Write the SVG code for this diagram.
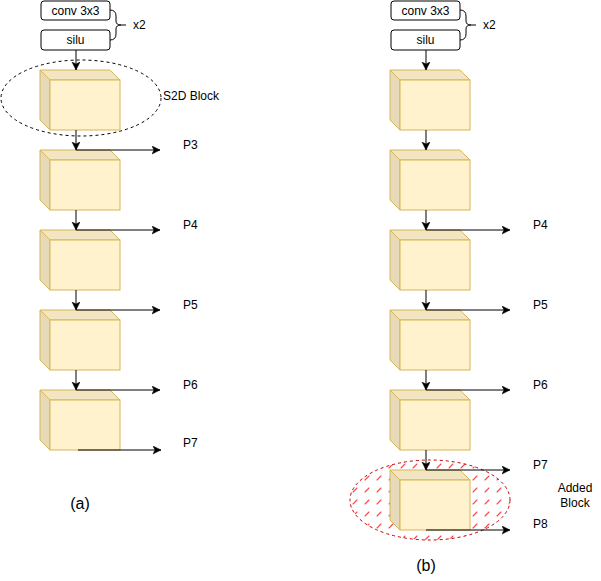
<svg xmlns="http://www.w3.org/2000/svg" width="601" height="581" viewBox="0 0 601 581">
<style>
text{font-family:"Liberation Sans",Arial,sans-serif;font-size:12px;fill:#000}
.box{fill:#fff;stroke:#000;stroke-width:1}
.front{fill:#fff2cc;stroke:#d6b656;stroke-width:1}
.top{fill:#f2e6c2;stroke:#d6b656;stroke-width:1}
.side{fill:#e6dab8;stroke:#d6b656;stroke-width:1}
.ln{fill:none;stroke:#000;stroke-width:1}
.big{font-size:16px}
</style>
<defs>
<marker id="ah" markerWidth="10" markerHeight="10" refX="8" refY="4" orient="auto" markerUnits="userSpaceOnUse">
<path d="M0,0 L8,4 L0,8 L2,4 Z" fill="#000" stroke="#000" stroke-width="0.5"/>
</marker>
<pattern id="hatch" x="350" y="460" width="12" height="12" patternUnits="userSpaceOnUse">
<line x1="3" y1="8" x2="7" y2="4" stroke="#f04a4a" stroke-width="1.1" stroke-linecap="round"/>
</pattern>
<g id="cube">
<polygon class="top" points="0,0 70,0 80,10 10,10"/>
<polygon class="side" points="0,0 10,10 10,60 0,50"/>
<rect class="front" x="10" y="10" width="70" height="50"/>
</g>
</defs>

<!-- Left (a) -->
<g id="a-conv"><rect class="box" x="41" y="1" width="69" height="19" rx="3"/><text x="75.5" y="14.5" text-anchor="middle">conv 3x3</text></g>
<g id="a-silu"><rect class="box" x="41" y="30" width="69" height="20" rx="3"/><text x="75.5" y="44" text-anchor="middle">silu</text></g>
<g id="a-brace"><path class="ln" d="M110,10 Q116,10 116,16 L116,21 Q116,25 121,25 Q116,25 116,29 L116,34 Q116,40 110,40 M121,25 L126,25"/><text x="133" y="29">x2</text></g>
<g id="a-s2d"><ellipse cx="81" cy="98" rx="80" ry="38" fill="none" stroke="#000" stroke-width="1" stroke-dasharray="3 3"/><text x="163" y="100">S2D Block</text></g>
<g id="a-c1"><use href="#cube" x="40" y="70"/></g>
<g id="a-c2"><use href="#cube" x="40" y="150"/></g>
<g id="a-c3"><use href="#cube" x="40" y="230"/></g>
<g id="a-c4"><use href="#cube" x="40" y="310"/></g>
<g id="a-c5"><use href="#cube" x="40" y="390"/></g>
<g id="a-labels">
<text x="183" y="149">P3</text><text x="183" y="229">P4</text><text x="183" y="309">P5</text><text x="183" y="389">P6</text><text x="183" y="447">P7</text>
<text class="big" x="80" y="509" text-anchor="middle">(a)</text>
</g>

<!-- Right (b) -->
<g id="b-added"><ellipse cx="430" cy="500" rx="80" ry="40" fill="url(#hatch)" stroke="#c00000" stroke-width="1" stroke-dasharray="3 3"/></g>
<g id="b-conv"><rect class="box" x="391" y="1" width="69" height="19" rx="3"/><text x="425.5" y="14.5" text-anchor="middle">conv 3x3</text></g>
<g id="b-silu"><rect class="box" x="391" y="30" width="69" height="20" rx="3"/><text x="425.5" y="44" text-anchor="middle">silu</text></g>
<g id="b-brace"><path class="ln" d="M460,10 Q466,10 466,16 L466,21 Q466,25 471,25 Q466,25 466,29 L466,34 Q466,40 460,40 M471,25 L476,25"/><text x="483" y="29">x2</text></g>
<g id="b-c1"><use href="#cube" x="390" y="70"/></g>
<g id="b-c2"><use href="#cube" x="390" y="150"/></g>
<g id="b-c3"><use href="#cube" x="390" y="230"/></g>
<g id="b-c4"><use href="#cube" x="390" y="310"/></g>
<g id="b-c5"><use href="#cube" x="390" y="390"/></g>
<g id="b-c6"><use href="#cube" x="390" y="470"/></g>
<g id="b-labels">
<text x="533" y="229">P4</text><text x="533" y="309">P5</text><text x="533" y="389">P6</text><text x="533" y="469">P7</text><text x="533" y="528">P8</text>
<text x="575" y="492" text-anchor="middle">Added</text><text x="575" y="507" text-anchor="middle">Block</text>
<text class="big" x="426" y="571" text-anchor="middle">(b)</text>
</g>

<g id="connectors">
<line class="ln" x1="76" y1="50" x2="76" y2="70" marker-end="url(#ah)"/>
<line class="ln" x1="76" y1="130" x2="76" y2="150" marker-end="url(#ah)"/>
<line class="ln" x1="76" y1="210" x2="76" y2="230" marker-end="url(#ah)"/>
<line class="ln" x1="76" y1="290" x2="76" y2="310" marker-end="url(#ah)"/>
<line class="ln" x1="76" y1="370" x2="76" y2="390" marker-end="url(#ah)"/>
<line class="ln" x1="76" y1="150" x2="160" y2="150" marker-end="url(#ah)"/>
<line class="ln" x1="76" y1="230" x2="160" y2="230" marker-end="url(#ah)"/>
<line class="ln" x1="76" y1="310" x2="160" y2="310" marker-end="url(#ah)"/>
<line class="ln" x1="76" y1="390" x2="160" y2="390" marker-end="url(#ah)"/>
<line class="ln" x1="78" y1="450" x2="161" y2="450" marker-end="url(#ah)"/>

<line class="ln" x1="426" y1="50" x2="426" y2="70" marker-end="url(#ah)"/>
<line class="ln" x1="426" y1="130" x2="426" y2="150" marker-end="url(#ah)"/>
<line class="ln" x1="426" y1="210" x2="426" y2="230" marker-end="url(#ah)"/>
<line class="ln" x1="426" y1="290" x2="426" y2="310" marker-end="url(#ah)"/>
<line class="ln" x1="426" y1="370" x2="426" y2="390" marker-end="url(#ah)"/>
<line class="ln" x1="426" y1="450" x2="426" y2="470" marker-end="url(#ah)"/>
<line class="ln" x1="426" y1="230" x2="510" y2="230" marker-end="url(#ah)"/>
<line class="ln" x1="426" y1="310" x2="510" y2="310" marker-end="url(#ah)"/>
<line class="ln" x1="426" y1="390" x2="510" y2="390" marker-end="url(#ah)"/>
<line class="ln" x1="426" y1="470" x2="510" y2="470" marker-end="url(#ah)"/>
<line class="ln" x1="426" y1="530" x2="510" y2="530" marker-end="url(#ah)"/>
</g>
</svg>
